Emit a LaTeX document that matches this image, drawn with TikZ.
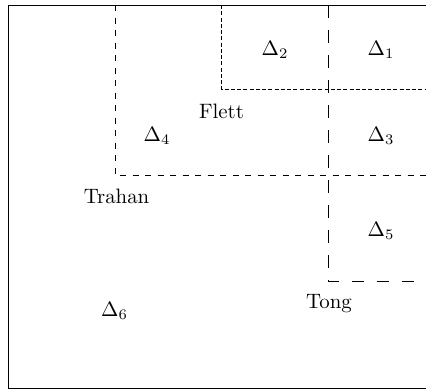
\documentclass[tikz,border=0pt]{standalone}
\begin{document}
\begin{tikzpicture}[x=0.48pt,y=-0.48pt,
  frameline/.style={line width=0.4pt},
  trahanline/.style={dashed},
  flettline/.style={dash pattern=on 2pt off 1pt},
  tongline/.style={dash pattern=on 6pt off 6pt},
  lbl/.style={inner sep=0pt}]
\useasboundingbox (0,0) rectangle (426,390);
\clip (0,0) rectangle (426,390);
\draw[frameline] (8,5) rectangle (440,388.5);
\draw[trahanline] (115,5) -- (115,175) -- (440,175);
\draw[flettline] (221.5,5) -- (221.5,89.5) -- (440,89.5);
\draw[tongline] (328.3,5) -- (328.3,281.7) -- (440,281.7);
\node[lbl] (d2) at (275,50) {$\Delta_2$};
\node[lbl] (d1) at (381,50) {$\Delta_1$};
\node[lbl] (flett) at (221.5,111) {Flett};
\node[lbl] (d4) at (157,136) {$\Delta_4$};
\node[lbl] (d3) at (381,136) {$\Delta_3$};
\node[lbl] (trahan) at (116.5,196) {Trahan};
\node[lbl] (d5) at (381,231) {$\Delta_5$};
\node[lbl] (tong) at (329,304) {Tong};
\node[lbl] (d6) at (114.5,311) {$\Delta_6$};
\end{tikzpicture}
\end{document}
